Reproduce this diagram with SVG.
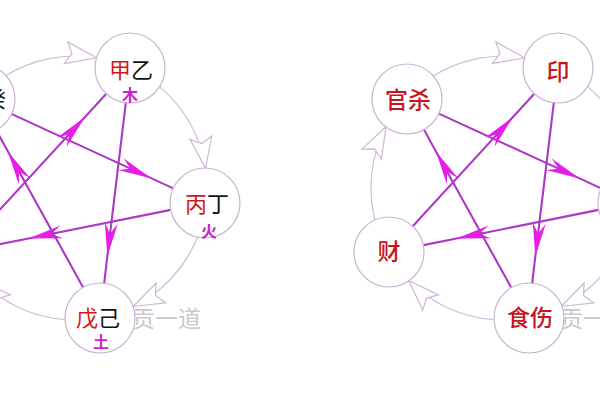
<svg xmlns="http://www.w3.org/2000/svg" width="600" height="400" viewBox="0 0 600 400">
<style>
.node{fill:#ffffff;stroke:#cbb3d5;stroke-width:1.2}
.arc{fill:none;stroke:#d0bbdb;stroke-width:1.2;marker-end:url(#open)}
.star{fill:none;stroke:#ac38c8;stroke-width:2.1;marker-mid:url(#barb)}
.lbl{font-family:"Noto Sans CJK SC","Noto Sans",sans-serif;font-size:22px;text-anchor:middle}
.red{fill:#d4161c}
.blk{fill:#111111}
.dred{fill:#c8141e;font-weight:500;font-size:23px}
.elem{font-family:"Noto Sans CJK SC",sans-serif;font-size:16px;fill:#cc22cc;text-anchor:middle;font-weight:bold}
.wm{font-family:"Noto Sans CJK SC",sans-serif;font-size:23px;fill:#c9c9c9}
</style>
<defs>
<marker id="open" markerUnits="userSpaceOnUse" viewBox="-33 -13 35 26" refX="0" refY="0" markerWidth="35" markerHeight="26" orient="auto">
<path d="M0,0 L-31,-11 L-25,0 L-31,11 Z" fill="#ffffff" stroke="#cdb6d8" stroke-width="1.2" stroke-linejoin="miter"/>
</marker>
<marker id="barb" markerUnits="userSpaceOnUse" viewBox="-36 -8 38 16" refX="0" refY="0" markerWidth="38" markerHeight="16" orient="auto">
<path d="M0,0 L-34,-6.5 L-23,0 L-34,6.5 Z" fill="#e61ee6"/>
</marker>
</defs>
<rect width="600" height="400" fill="#ffffff"/>
<text class="wm" x="132" y="327">贡一道</text>
<text class="wm" x="560" y="327">贡一</text>
<g id="connectors">
<path class="arc" d="M5.1,76.1 A132,132 0 0 1 96.6,57.8"/>
<path class="arc" d="M159.5,86.6 A132,132 0 0 1 205.5,168.3"/>
<path class="arc" d="M197.6,237 A132,132 0 0 1 133.1,306.5"/>
<path class="arc" d="M65.1,319.6 A132,132 0 0 1 -19.2,280.5"/>
<path class="star" d="M10.8,113.6 L151.6,178.4 L173.2,188.4"/>
<path class="star" d="M170.7,209.9 L28.5,238.5 L-4.7,245.1"/>
<path class="star" d="M-15.3,226.2 L84.8,117.2 L106.3,93.8"/>
<path class="star" d="M125.8,102.8 L107.3,256.7 L104.2,283.2"/>
<path class="star" d="M83.1,287.4 L8.1,151.7 L-4.1,129.6"/>
<path class="arc" d="M433.1,76.1 A132,132 0 0 1 524.6,57.8"/>
<path class="arc" d="M587.5,86.6 A132,132 0 0 1 633.5,168.3"/>
<path class="arc" d="M625.6,237 A132,132 0 0 1 561.1,306.5"/>
<path class="arc" d="M493.1,319.6 A132,132 0 0 1 408.8,280.5"/>
<path class="arc" d="M375,220.2 A132,132 0 0 1 386,126.8"/>
<path class="star" d="M438.8,113.6 L579.6,178.4 L601.2,188.4"/>
<path class="star" d="M598.7,209.9 L456.5,238.5 L423.3,245.1"/>
<path class="star" d="M412.7,226.2 L512.8,117.2 L534.3,93.8"/>
<path class="star" d="M553.8,102.8 L535.3,256.7 L532.2,283.2"/>
<path class="star" d="M511.1,287.4 L436.1,151.7 L423.9,129.6"/>
</g>
<g id="node-renggui">
<circle class="node" cx="-20" cy="99" r="35"/>
<text class="lbl" x="-16" y="107"><tspan class="red">壬</tspan><tspan class="blk">癸</tspan></text>
</g>
<g id="node-jiayi">
<circle class="node" cx="130" cy="68" r="35"/>
<text class="lbl" x="131" y="78"><tspan class="red">甲</tspan><tspan class="blk">乙</tspan></text>
<text class="elem" x="130" y="101">木</text>
</g>
<g id="node-bingding">
<circle class="node" cx="205" cy="203" r="35"/>
<text class="lbl" x="207" y="212"><tspan class="red">丙</tspan><tspan class="blk">丁</tspan></text>
<text class="elem" x="209" y="237">火</text>
</g>
<g id="node-wuji">
<circle class="node" cx="100" cy="318" r="35"/>
<text class="lbl" x="98" y="326"><tspan class="red">戊</tspan><tspan class="blk">己</tspan></text>
<text class="elem" x="101" y="348">土</text>
</g>
<g id="node-yin">
<circle class="node" cx="558" cy="68" r="35"/>
<text class="lbl dred" x="558" y="80">印</text>
</g>
<g id="node-guansha">
<circle class="node" cx="407" cy="99" r="35"/>
<text class="lbl dred" x="408" y="108">官杀</text>
</g>
<g id="node-cai">
<circle class="node" cx="389" cy="252" r="35"/>
<text class="lbl dred" x="389" y="260">财</text>
</g>
<g id="node-shishang">
<circle class="node" cx="529" cy="318" r="35"/>
<text class="lbl dred" x="530" y="326">食伤</text>
</g>
<g id="node-right">
<circle class="node" cx="633" cy="203" r="35"/>
</g>
</svg>
